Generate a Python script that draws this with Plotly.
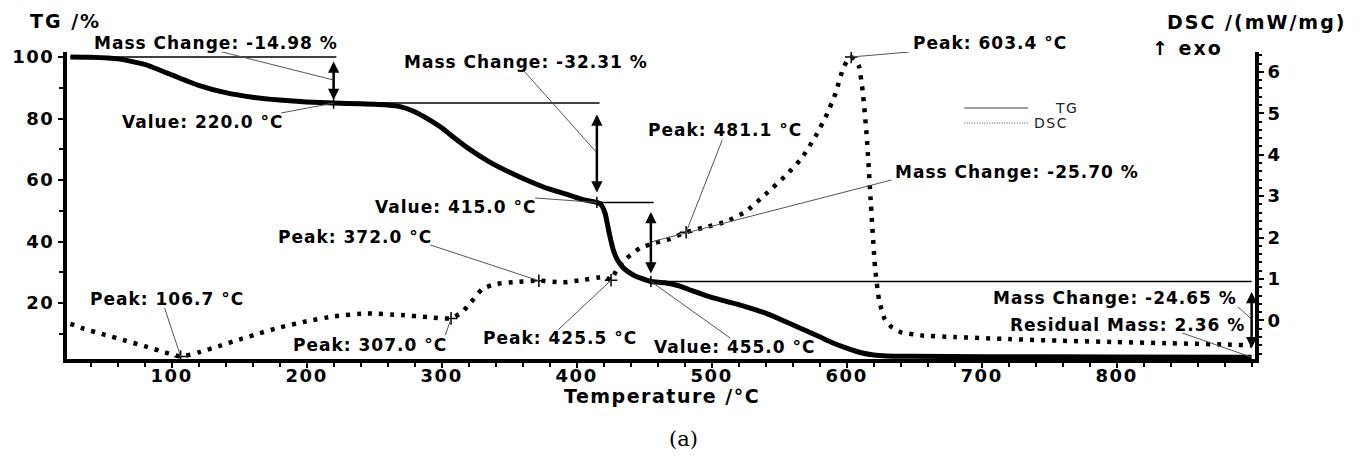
import numpy as np
import plotly.graph_objects as go

# ---- data -------------------------------------------------------------
# TG curve: residual mass (%) versus temperature (°C)
tg_temp = [25, 40, 60, 80, 100, 120, 140, 160, 180, 200, 220, 240, 260, 270, 280,
           290, 300, 310, 320, 335, 350, 365, 380, 395, 405, 415, 418, 421, 424, 427,
           430, 434, 438, 443, 448, 455, 465, 475, 485, 500, 520, 540, 555, 570, 580,
           590, 600, 610, 620, 630, 650, 700, 800, 900]
tg_mass = [100, 99.9, 99.4, 97.6, 94.2, 90.8, 88.4, 86.9, 86.0, 85.4, 85.02, 84.8, 84.4, 83.8, 82.2,
           79.8, 77.0, 73.5, 70.2, 66.0, 62.6, 59.6, 57.0, 55.0, 53.6, 52.71, 52.0, 49.3, 43.0, 37.5,
           34.2, 31.7, 30.2, 28.9, 28.0, 27.01, 26.6, 25.7, 24.1, 21.8, 19.5, 16.7, 13.9, 11.0, 9.0,
           7.0, 5.3, 3.9, 3.1, 2.8, 2.65, 2.55, 2.45, 2.36]

# DSC curve: heat flow (mW/mg, exo up) versus temperature (°C)
dsc_temp = [25, 35, 50, 65, 80, 95, 106.7, 120, 135, 150, 165, 180, 200, 220, 245,
            270, 290, 307.0, 315, 322, 330, 340, 355, 372.0, 390, 405, 415, 421, 425.5, 430,
            437, 447, 458, 469, 481.1, 495, 510, 525, 540, 555, 567, 577, 585, 592, 597,
            601, 603.4, 606, 609, 612, 615, 618, 621, 624, 628, 633, 640, 655, 680, 720,
            760, 800, 840, 880, 900]
dsc_val = [-0.08, -0.2, -0.34, -0.48, -0.62, -0.77, -0.87, -0.77, -0.62, -0.46, -0.31, -0.17, -0.02, 0.1, 0.17,
           0.13, 0.08, 0.05, 0.2, 0.45, 0.76, 0.88, 0.93, 0.96, 0.92, 0.98, 1.03, 1.05, 0.97, 1.25,
           1.5, 1.75, 1.87, 1.97, 2.13, 2.25, 2.38, 2.62, 3.05, 3.5, 3.93, 4.45, 4.95, 5.5, 6.05,
           6.3, 6.36, 6.3, 6.15, 5.5, 4.4, 2.8, 1.3, 0.5, 0.05, -0.15, -0.28, -0.36, -0.4, -0.45,
           -0.49, -0.52, -0.55, -0.58, -0.6]

# evaluated events
step_temps = [220.0, 415.0, 455.0, 900.0]          # TG step end points
mass_changes = [-14.98, -32.31, -25.70, -24.65]    # %
residual_mass = 2.36                               # %
peak_temps = [106.7, 307.0, 372.0, 425.5, 481.1, 603.4]

x_ticks = [100, 200, 300, 400, 500, 600, 700, 800]
tg_ticks = [20, 40, 60, 80, 100]
dsc_ticks = [0, 1, 2, 3, 4, 5, 6]

# ---- geometry ---------------------------------------------------------
W, H = 1368, 457
ML, MR, MT, MB = 62, 113, 52, 98
X_RANGE = [22.5, 902.5]
TG_RANGE = [1.79, 101.63]
DSC_RANGE = [-0.93, 6.48]
PW, PH = W - ML - MR, H - MT - MB


def px2x(px):
    return X_RANGE[0] + (px - ML) / PW * (X_RANGE[1] - X_RANGE[0])


def py2tg(py):
    return TG_RANGE[0] + (H - MB - py) / PH * (TG_RANGE[1] - TG_RANGE[0])


def py2dsc(py):
    return DSC_RANGE[0] + (H - MB - py) / PH * (DSC_RANGE[1] - DSC_RANGE[0])


def pxp(px):
    return (px - ML) / PW


def pyp(py):
    return (H - MB - py) / PH


def spaced(text, ls):
    return f'<span style="letter-spacing:{ls}px">{text}</span>'


FONT = 'DejaVu Sans'
LABEL_FONT = dict(family=FONT, size=17, color='black', weight='bold')

levels = list(100 + np.cumsum(mass_changes))       # 85.02, 52.71, 27.01, 2.36
level_tops = [100.0] + levels[:-1]

fig = go.Figure()

fig.add_trace(go.Scatter(
    x=tg_temp, y=tg_mass, mode='lines', name='TG',
    line=dict(color='black', width=5, shape='spline', smoothing=0.5),
    showlegend=False, yaxis='y'))

fig.add_trace(go.Scatter(
    x=dsc_temp, y=dsc_val, mode='lines', name='DSC',
    line=dict(color='black', width=4.5, dash='4px,7px', shape='spline', smoothing=0.5),
    showlegend=False, yaxis='y2'))

# peak markers on the DSC curve
peak_dsc = np.interp(peak_temps, dsc_temp, dsc_val)
fig.add_trace(go.Scatter(
    x=peak_temps, y=peak_dsc, mode='markers', yaxis='y2', showlegend=False,
    marker=dict(symbol='cross-thin', size=9, line=dict(color='black', width=1.5))))

# evaluation markers on the TG curve
fig.add_trace(go.Scatter(
    x=step_temps[:3], y=levels[:3], mode='markers', yaxis='y', showlegend=False,
    marker=dict(symbol='cross-thin', size=8, line=dict(color='black', width=1.5))))

shapes = []
annotations = []

# horizontal reference levels of the TG steps
seg_starts = [tg_temp[0]] + step_temps[:3]
for i, top in enumerate(level_tops):
    x1 = step_temps[i] + (2 if i < 3 else 0)
    shapes.append(dict(type='line', xref='x', yref='y', x0=seg_starts[i], x1=x1,
                       y0=top, y1=top, line=dict(color='black', width=1.5)))

# double-headed arrows spanning each mass change
arrow_gaps = [3, 10, 8, 9]
for t, top, low, gap in zip(step_temps, level_tops, levels, arrow_gaps):
    annotations.append(dict(
        x=t, y=low, ax=t, ay=top, xref='x', yref='y', axref='x', ayref='y',
        text='', showarrow=True, arrowside='end+start', arrowhead=2, startarrowhead=2,
        arrowsize=0.9, startarrowsize=0.9, arrowwidth=2.5, arrowcolor='black',
        standoff=gap, startstandoff=gap))

# text labels: (text, left px, centre px)
mc_text = [f'Mass Change: {m:.2f} %' for m in mass_changes]
val_text = [f'Value: {t:.1f} °C' for t in step_temps[:3]]
peak_text = [f'Peak: {t:.1f} °C' for t in peak_temps]

labels = [
    (mc_text[0], 87, 43), (val_text[0], 115, 122),
    (mc_text[1], 398, 62), (val_text[1], 369, 207),
    (mc_text[2], 891, 172), (val_text[2], 649, 347),
    (mc_text[3], 990, 298), (f'Residual Mass: {residual_mass:.2f} %', 1007, 325),
    (peak_text[0], 83, 299), (peak_text[1], 287, 345), (peak_text[2], 272, 237),
    (peak_text[3], 478, 338), (peak_text[4], 643, 130), (peak_text[5], 910, 43),
]
for txt, lx, cy in labels:
    annotations.append(dict(x=pxp(lx), y=pyp(cy), xref='paper', yref='paper',
                            text=spaced(txt, 1), showarrow=False, xanchor='left',
                            yanchor='middle', font=LABEL_FONT))

# thin leader lines from labels to the evaluated points
grey = dict(color='#555555', width=1)
tg_leaders = [
    ((210, 50), step_temps[0], (level_tops[0] + levels[0]) / 2),
    ((277, 113), step_temps[0], levels[0]),
    ((520, 70), step_temps[1], (level_tops[1] + levels[1]) / 2),
    ((532, 198), step_temps[1], levels[1]),
    ((890, 180), step_temps[2], (level_tops[2] + levels[2]) / 2),
    ((728, 338), step_temps[2], levels[2]),
    ((1238, 307), step_temps[3], (level_tops[3] + levels[3]) / 2),
    ((1182, 333), step_temps[3], residual_mass),
]
for (px, py), t, v in tg_leaders:
    shapes.append(dict(type='line', xref='x', yref='y', x0=px2x(px), y0=py2tg(py),
                       x1=t, y1=v, line=grey))

dsc_leader_px = [(160, 308), (442, 335), (427, 245), (555, 330), (720, 140), (908, 52)]
for (px, py), t, v in zip(dsc_leader_px, peak_temps, peak_dsc):
    shapes.append(dict(type='line', xref='x', yref='y2', x0=px2x(px), y0=py2dsc(py),
                       x1=t, y1=v, line=grey))

# legend samples
shapes.append(dict(type='line', xref='paper', yref='paper', x0=pxp(963), x1=pxp(1027),
                   y0=pyp(108), y1=pyp(108), line=dict(color='#444444', width=1)))
shapes.append(dict(type='line', xref='paper', yref='paper', x0=pxp(963), x1=pxp(1027),
                   y0=pyp(123), y1=pyp(123), line=dict(color='#444444', width=1, dash='1px,1.5px')))
legend_font = dict(family=FONT, size=14, color='#222222')
annotations.append(dict(x=pxp(1052), y=pyp(108), xref='paper', yref='paper', text=spaced('TG', 1.5),
                        showarrow=False, xanchor='left', yanchor='middle', font=legend_font))
annotations.append(dict(x=pxp(1031), y=pyp(123), xref='paper', yref='paper', text=spaced('DSC', 1.5),
                        showarrow=False, xanchor='left', yanchor='middle', font=legend_font))

# axis titles
title_font = dict(family=FONT, size=19, color='black', weight='bold')
annotations += [
    dict(x=pxp(23), y=pyp(21), text=spaced('TG /%', 2), xanchor='left'),
    dict(x=pxp(1165), y=pyp(22), text=spaced('DSC /(mW/mg)', 2), xanchor='left'),
    dict(x=pxp(1150), y=pyp(48), text=spaced('↑ exo', 2), xanchor='left'),
    dict(x=pxp(559), y=pyp(396), text=spaced('Temperature /°C', 1.5), xanchor='left'),
]
for a in annotations[-4:]:
    a.update(xref='paper', yref='paper', showarrow=False, yanchor='middle', font=title_font)

annotations.append(dict(x=pxp(681), y=pyp(439), xref='paper', yref='paper', text='(a)',
                        showarrow=False, xanchor='center', yanchor='middle',
                        font=dict(family='DejaVu Serif', size=21, color='black')))

tick_font = dict(family=FONT, size=18, color='black', weight='bold')
axis_common = dict(showline=True, linecolor='black', linewidth=4, ticks='outside',
                   tickcolor='black', tickwidth=2, ticklen=5, showgrid=False,
                   zeroline=False, tickfont=tick_font, tickmode='array', fixedrange=True)

fig.update_layout(
    width=W, height=H,
    margin=dict(l=ML, r=MR, t=MT, b=MB, pad=0),
    paper_bgcolor='white', plot_bgcolor='white',
    showlegend=False,
    xaxis=dict(range=X_RANGE, tickvals=x_ticks,
               ticktext=[spaced(v, 1.5) for v in x_ticks],
               ticklabelstandoff=-8,
               minor=dict(tickmode='linear', tick0=0, dtick=20, ticks='outside',
                          ticklen=4, tickwidth=2, tickcolor='black'),
               **axis_common),
    yaxis=dict(range=TG_RANGE, tickvals=tg_ticks,
               ticktext=[spaced(v, 1.5) for v in tg_ticks],
               minor=dict(tickmode='linear', tick0=0, dtick=10, ticks='outside',
                          ticklen=4, tickwidth=2, tickcolor='black'),
               **axis_common),
    yaxis2=dict(range=DSC_RANGE, overlaying='y', side='right', tickvals=dsc_ticks,
                ticktext=[spaced(v, 1.5) for v in dsc_ticks],
                minor=dict(tickmode='linear', tick0=0, dtick=0.2, ticks='outside',
                           ticklen=3, tickwidth=1.5, tickcolor='black'),
                **axis_common),
    shapes=shapes,
    annotations=annotations,
)

fig.write_html('out.html')
